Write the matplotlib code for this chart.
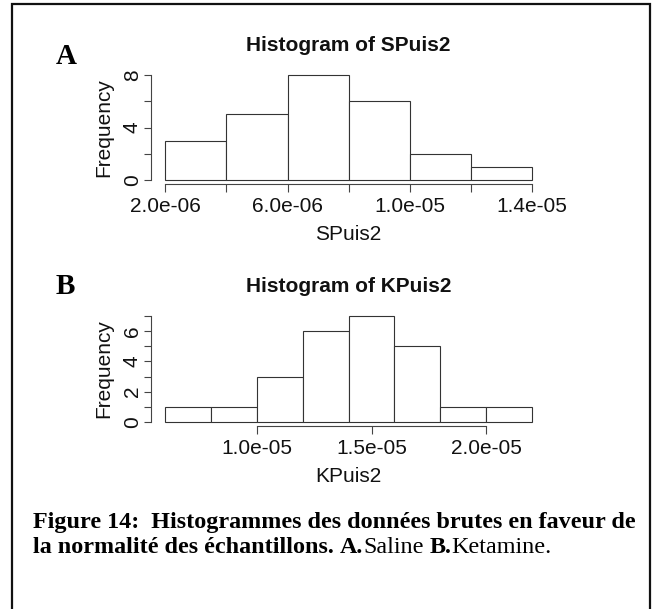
import matplotlib
matplotlib.use("Agg")
import matplotlib.pyplot as plt
import numpy as np
from matplotlib.patches import Rectangle

# donnees
s_edges = [2e-6, 4e-6, 6e-6, 8e-6, 1e-5, 1.2e-5, 1.4e-5]
s_counts = [3, 5, 8, 6, 2, 1]
s_xticks = [2e-6, 4e-6, 6e-6, 8e-6, 1e-5, 1.2e-5, 1.4e-5]
s_xlabels = ["2.0e-06", "", "6.0e-06", "", "1.0e-05", "", "1.4e-05"]
s_yticks = [0, 2, 4, 6, 8]
s_ylabels = ["0", "", "4", "", "8"]

k_edges = [6e-6, 8e-6, 1e-5, 1.2e-5, 1.4e-5, 1.6e-5, 1.8e-5, 2e-5, 2.2e-5]
k_counts = [1, 1, 3, 6, 7, 5, 1, 1]
k_xticks = [1e-5, 1.5e-5, 2e-5]
k_xlabels = ["1.0e-05", "1.5e-05", "2.0e-05"]
k_yticks = [0, 1, 2, 3, 4, 5, 6, 7]
k_ylabels = ["0", "", "2", "", "4", "", "6", ""]

W, H = 655, 609
fig = plt.figure(figsize=(W / 100, H / 100), dpi=100)

sans = "Liberation Sans"
serif = "Liberation Serif"
axcol = "#444444"


def box(l, t, r, b):
    return [l / W, 1 - b / H, (r - l) / W, (b - t) / H]


def histo(rect, edges, counts, xticks, xlabels, yticks, ylabels, title, xlab):
    ax = fig.add_axes(rect)
    edges = np.array(edges)
    widths = np.diff(edges)
    ax.bar(edges[:-1], counts, width=widths, align="edge",
           facecolor="white", edgecolor="#333333", linewidth=0.8)
    # marges a la R (4%)
    xr = edges[-1] - edges[0]
    ax.set_xlim(edges[0] - 0.04 * xr, edges[-1] + 0.04 * xr)
    yr = max(yticks)
    ax.set_ylim(-0.04 * yr, yr * 1.04)
    for s in ["top", "right"]:
        ax.spines[s].set_visible(False)
    for s in ["left", "bottom"]:
        ax.spines[s].set_color(axcol)
        ax.spines[s].set_linewidth(0.8)
    ax.spines["bottom"].set_bounds(xticks[0], xticks[-1])
    ax.spines["left"].set_bounds(yticks[0], yticks[-1])
    ax.set_xticks(xticks)
    ax.set_xticklabels(xlabels)
    ax.set_yticks(yticks)
    ax.set_yticklabels(ylabels, rotation=90, va="center")
    ax.tick_params(length=5.4, width=0.8, color=axcol, labelsize=15,
                   labelcolor="#111111")
    ax.tick_params(axis="x", pad=3.5)
    ax.tick_params(axis="y", pad=1)
    for lab in ax.get_xticklabels() + ax.get_yticklabels():
        lab.set_fontfamily(sans)
    ax.set_xlabel(xlab, fontsize=15, family=sans, labelpad=6.5, color="#111111")
    ax.set_ylabel("Frequency", fontsize=15, family=sans, labelpad=7,
                  color="#111111")
    ax.set_title(title, fontsize=15, family=sans, fontweight="bold",
                 pad=14, color="#111111")
    ax.patch.set_alpha(0)
    return ax


histo(box(150.6, 70.8, 546.7, 184.2), s_edges, s_counts, s_xticks, s_xlabels,
      s_yticks, s_ylabels, "Histogram of SPuis2", "SPuis2")
histo(box(150.6, 311.8, 546.7, 426.2), k_edges, k_counts, k_xticks, k_xlabels,
      k_yticks, k_ylabels, "Histogram of KPuis2", "KPuis2")

fig.text(66 / W, 1 - 56 / H, "A", family=serif, fontweight="bold",
         fontsize=21, ha="center", va="center")
fig.text(65 / W, 1 - 286 / H, "B", family=serif, fontweight="bold",
         fontsize=21, ha="center", va="center")

# cadre
fig.patches.append(Rectangle((12 / W, -0.05), (650 - 12) / W, 1.05 - 4 / H,
                             transform=fig.transFigure, fill=False,
                             edgecolor="#111111", linewidth=1.6))

# legende
capsize = 17.4
fig.text(33 / W, 1 - 528 / H,
         "Figure 14:  Histogrammes des donn\u00e9es brutes en faveur de",
         family=serif, fontweight="bold", fontsize=capsize, va="baseline")
parts = [("la normalit\u00e9 des \u00e9chantillons.", "bold", 0),
         ("A.", "bold", 6),
         ("Saline", "normal", 0),
         ("B.", "bold", 6),
         ("Ketamine.", "normal", 0)]
texts = []
for txt, wt, gap in parts:
    texts.append(fig.text(33 / W, 1 - 553 / H, txt, family=serif,
                          fontweight=wt, fontsize=capsize, va="baseline"))

# placement des morceaux de la ligne 2 les uns apres les autres
fig.canvas.draw()
r = fig.canvas.get_renderer()
x = texts[0].get_window_extent(r).x1
for (txt, wt, gap), t in zip(parts[1:], texts[1:]):
    x += gap
    t.set_position((x / W, 1 - 553 / H))
    x = t.get_window_extent(r).x1

fig.savefig("out.png", dpi=100)
